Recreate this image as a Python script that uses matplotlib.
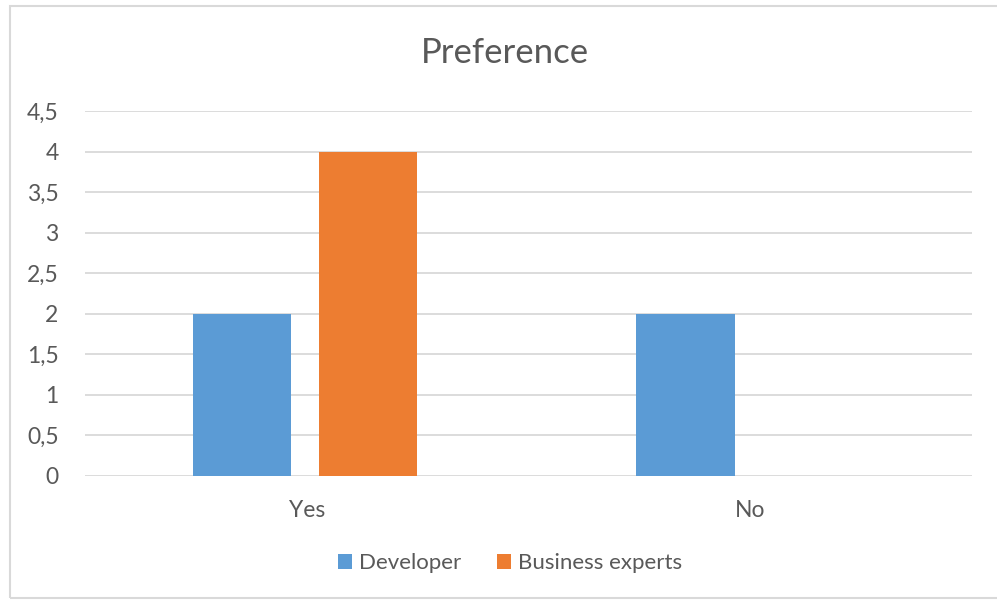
import matplotlib.pyplot as plt
from matplotlib.patches import Rectangle
from matplotlib.ticker import FuncFormatter
import numpy as np

# data
categories = ['Yes', 'No']
developer = [2, 2]
business = [4, 0]
series_names = ['Developer', 'Business experts']

plt.rcParams['font.family'] = ['Lato', 'DejaVu Sans']
txt = '#595959'

fig = plt.figure(figsize=(9.97, 6.03), dpi=100)
fig.patches.append(Rectangle((10 / 997, 5 / 603), 1.0, 592 / 603, transform=fig.transFigure,
                             fill=False, edgecolor='#d9d9d9', lw=1.5))
ax = fig.add_axes([85 / 997, 1 - 476 / 603, (972 - 85) / 997, (476 - 111) / 603])

x = np.arange(len(categories))
w = 0.223
off = 0.142
ax.bar(x - off - 0.004, developer, w, color='#5b9bd5', label=series_names[0], zorder=3)
ax.bar(x + off - 0.004, business, w, color='#ed7d31', label=series_names[1], zorder=3)

ax.set_xlim(-0.5, 1.5)
ax.set_ylim(0, 4.5)
ax.set_yticks(np.arange(0, 4.51, 0.5))
ax.yaxis.set_major_formatter(FuncFormatter(lambda v, p: ('%g' % v).replace('.', ',')))
ax.set_xticks(x)
ax.set_xticklabels(categories)
ax.grid(axis='y', color='#d9d9d9', lw=1.3, zorder=0)
for s in ax.spines.values():
    s.set_visible(False)
ax.tick_params(length=0, labelsize=16.5, colors=txt)
ax.tick_params(axis='x', pad=17)
ax.tick_params(axis='y', pad=19)

fig.text(0.506, 1 - 53 / 603, 'Preference', ha='center', va='center', fontsize=25, color=txt)
fig.legend(loc='center', bbox_to_anchor=(510 / 997, 1 - 563 / 603), ncol=2, frameon=False,
           fontsize=16, labelcolor=txt, handlelength=0.65, handleheight=0.65,
           handletextpad=0.3, columnspacing=1.6)

fig.savefig('out.png', dpi=100)
